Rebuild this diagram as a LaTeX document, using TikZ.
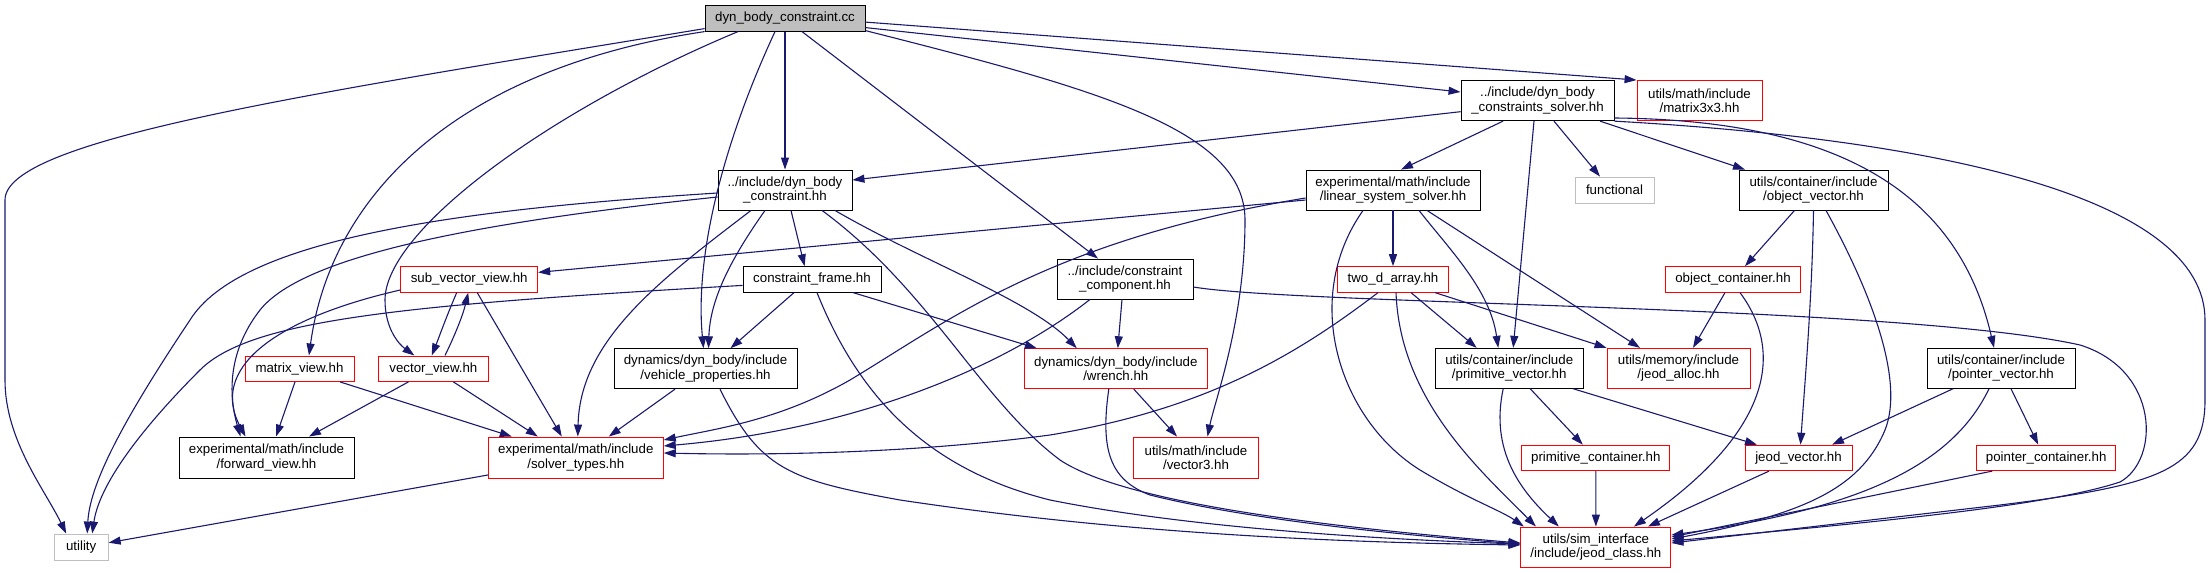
\documentclass[tikz,border=0pt]{standalone}
\usepackage{fontspec}
\setmainfont{Liberation Sans}
\usetikzlibrary{arrows.meta}
\definecolor{edgeblue}{RGB}{25,25,112}
\definecolor{nodered}{RGB}{255,0,0}
\definecolor{nodegray}{RGB}{191,191,191}

\begin{document}
\begin{tikzpicture}[
    x=1pt, y=-1pt,
    box/.style={draw=black, line width=0.9pt, fill=white, inner sep=0pt, minimum height=40pt, align=center, font=\fontsize{13.3}{14.5}\selectfont},
    oneline/.style={minimum height=25.5pt},
    redbox/.style={box, draw=nodered},
    graybox/.style={box, oneline, draw=nodegray},
    rootbox/.style={box, oneline, fill=nodegray},
    arr/.style={-{Triangle[length=12pt,width=8pt]}, draw=edgeblue, line width=1.1pt}
  ]
  \useasboundingbox (0,0) rectangle (2209,573);

  \node[rootbox, minimum width=160pt] (cc) at (785,18.4) {dyn\_body\_constraint.cc};
  \node[box, minimum width=153pt] (solver) at (1537.5,100.7) {../include/dyn\_body\\\_constraints\_solver.hh};
  \node[redbox, minimum width=125pt] (m3x3) at (1699.5,100.5) {utils/math/include\\/matrix3x3.hh};
  \node[box, minimum width=134pt] (dbc) at (785,190) {../include/dyn\_body\\\_constraint.hh};
  \node[box, minimum width=174pt] (lss) at (1393,190) {experimental/math/include\\/linear\_system\_solver.hh};
  \node[graybox, minimum width=79pt, minimum height=26pt] (func) at (1614.5,190) {functional};
  \node[box, minimum width=149pt] (objvec) at (1813.5,190) {utils/container/include\\/object\_vector.hh};
  \node[redbox, oneline, minimum width=137pt] (subvv) at (469.2,279.4) {sub\_vector\_view.hh};
  \node[box, oneline, minimum width=138pt] (cframe) at (812,279.4) {constraint\_frame.hh};
  \node[box, minimum width=136pt] (ccomp) at (1125,279) {../include/constraint\\\_component.hh};
  \node[redbox, oneline, minimum width=111pt] (twod) at (1393,279.4) {two\_d\_array.hh};
  \node[redbox, oneline, minimum width=135pt] (objcont) at (1733,279.4) {object\_container.hh};
  \node[redbox, oneline, minimum width=109pt] (matv) at (299.5,368.7) {matrix\_view.hh};
  \node[redbox, oneline, minimum width=110pt] (vecv) at (433.4,368.7) {vector\_view.hh};
  \node[box, minimum width=183pt] (vprop) at (705.5,368.7) {dynamics/dyn\_body/include\\/vehicle\_properties.hh};
  \node[redbox, minimum width=183pt] (wrench) at (1115.8,368.7) {dynamics/dyn\_body/include\\/wrench.hh};
  \node[box, minimum width=148pt] (primvec) at (1509.2,368.3) {utils/container/include\\/primitive\_vector.hh};
  \node[redbox, minimum width=143pt] (alloc) at (1678.5,368.3) {utils/memory/include\\/jeod\_alloc.hh};
  \node[box, minimum width=148pt] (ptrvec) at (2001,368.3) {utils/container/include\\/pointer\_vector.hh};
  \node[box, minimum width=175pt, minimum height=41pt] (fwd) at (266.5,457.5) {experimental/math/include\\/forward\_view.hh};
  \node[redbox, minimum width=175pt, minimum height=41pt] (stypes) at (575.8,457.5) {experimental/math/include\\/solver\_types.hh};
  \node[redbox, minimum width=125pt, minimum height=41pt] (vec3) at (1196,457.5) {utils/math/include\\/vector3.hh};
  \node[redbox, oneline, minimum width=148pt] (primcont) at (1595.8,457.9) {primitive\_container.hh};
  \node[redbox, oneline, minimum width=107pt] (jvec) at (1798.5,457.9) {jeod\_vector.hh};
  \node[redbox, oneline, minimum width=139pt] (ptrcont) at (2046.2,457.9) {pointer\_container.hh};
  \node[graybox, minimum width=54pt, minimum height=26pt] (utility) at (81.2,547) {utility};
  \node[redbox, minimum width=150pt] (jclass) at (1595.9,547) {utils/sim\_interface\\/include/jeod\_class.hh};

  \draw[arr] ([yshift=3pt]cc.south west) .. controls (300,95) and (5,140) .. (5,200) -- (5,380) .. controls (5,440) and (45,490) .. ([xshift=-15pt]utility.north);
  \draw[arr] (cc.south west) .. controls (450,70) and (330,200) .. ([xshift=9.5pt]matv.north);
  \draw[arr] ([xshift=-47pt]cc.south) .. controls (550,110) and (385,230) .. (385,300) .. controls (385,330) and (400,345) .. ([xshift=-19pt]vecv.north);
  \draw[arr] (cc.south) -- (dbc.north);
  \draw[arr] ([xshift=-10pt]cc.south) .. controls (720,150) and (695,260) .. ([xshift=-2pt]vprop.north);
  \draw[arr] ([xshift=17pt]cc.south) -- ([xshift=-27pt]ccomp.north);
  \draw[arr] ([yshift=1pt]cc.south east) .. controls (1100,90) and (1245,130) .. (1245,220) .. controls (1245,320) and (1215,400) .. ([xshift=11.5pt]vec3.north);
  \draw[arr] ([yshift=4pt]cc.south east) -- ([yshift=8.7pt]solver.west);
  \draw[arr] ([yshift=-3.7pt]cc.east) -- (m3x3.north west);

  \draw[arr] ([yshift=-11pt]solver.west) -- ([yshift=10pt]dbc.east);
  \draw[arr] ([xshift=-34.5pt]solver.south) -- ([xshift=8pt]lss.north);
  \draw[arr] ([xshift=16.5pt]solver.south) -- ([xshift=-14.5pt]func.north);
  \draw[arr] ([xshift=62.5pt]solver.south) -- ([xshift=-68.5pt]objvec.north);
  \draw[arr] ([xshift=-3.5pt]solver.south) -- ([xshift=4pt]primvec.north);
  \draw[arr] ([yshift=-17.3pt]solver.east) .. controls (1850,120) and (1960,200) .. ([xshift=-7pt]ptrvec.north);
  \draw[arr] (solver.south east) .. controls (1950,140) and (2205,200) .. (2205,320) -- (2205,400) .. controls (2205,470) and (2160,485) .. (2000,505) -- ([yshift=4pt]jclass.east);

  \draw[arr] ([yshift=-3pt]dbc.west) .. controls (450,210) and (240,240) .. (190,320) .. controls (130,410) and (90,480) .. ([xshift=6pt]utility.north);
  \draw[arr] ([yshift=-7pt]dbc.west) .. controls (450,225) and (300,260) .. (260,310) .. controls (225,355) and (230,400) .. ([xshift=-26pt]fwd.north);
  \draw[arr] ([xshift=-34pt]dbc.south) .. controls (660,280) and (580,340) .. ([xshift=2pt]stypes.north);
  \draw[arr] ([xshift=-20pt]dbc.south) .. controls (730,260) and (710,300) .. ([xshift=3pt]vprop.north);
  \draw[arr] ([xshift=6pt]dbc.south) -- ([xshift=-7.4pt]cframe.north);
  \draw[arr] ([xshift=50pt]dbc.south) .. controls (920,260) and (1030,300) .. ([xshift=-39pt]wrench.north);
  \draw[arr] ([xshift=37pt]dbc.south) .. controls (930,290) and (980,400) .. (1060,460) .. controls (1120,500) and (1300,525) .. ([yshift=4pt]jclass.west);

  \draw[arr] ([yshift=-6pt]cframe.west) .. controls (400,305) and (250,320) .. (200,370) .. controls (150,420) and (100,480) .. ([xshift=11pt]utility.north);
  \draw[arr] ([xshift=-18pt]cframe.south) -- ([xshift=25pt]vprop.north);
  \draw[arr] ([xshift=41pt]cframe.south) -- ([xshift=-79pt]wrench.north);
  \draw[arr] ([xshift=5pt]cframe.south) .. controls (860,400) and (930,470) .. (1050,500) .. controls (1200,530) and (1400,540) .. ([yshift=3pt]jclass.west);

  \draw[arr] ([xshift=-3pt]ccomp.south) -- ([xshift=2pt]wrench.north);
  \draw[arr] ([xshift=-35pt]ccomp.south) .. controls (1000,370) and (850,430) .. ([yshift=11.5pt]stypes.east);
  \draw[arr] ([yshift=-8pt]ccomp.east) .. controls (1300,305) and (1900,305) .. (2080,345) .. controls (2160,370) and (2160,460) .. (2120,482) .. controls (2050,505) and (1900,520) .. ([yshift=6pt]jclass.east);

  \draw[arr] ([yshift=-10pt]lss.west) -- ([yshift=7pt]subvv.east);
  \draw[arr] ([yshift=-8pt]lss.west) .. controls (1050,240) and (950,320) .. (850,380) .. controls (780,420) and (720,428) .. ([yshift=17.5pt]stypes.east);
  \draw[arr] (lss.south) -- (twod.north);
  \draw[arr] ([xshift=-30pt]lss.south) .. controls (1300,300) and (1340,420) .. (1420,470) .. controls (1470,500) and (1500,510) .. ([xshift=-72pt]jclass.north);
  \draw[arr] ([xshift=26pt]lss.south) .. controls (1450,250) and (1490,290) .. ([xshift=-11pt]primvec.north);
  \draw[arr] ([xshift=34pt]lss.south) -- ([xshift=-38.5pt]alloc.north);

  \draw[arr] ([xshift=-15pt]twod.south) .. controls (1290,360) and (1200,410) .. (1050,435) .. controls (900,455) and (750,455) .. ([yshift=4.5pt]stypes.east);
  \draw[arr] ([xshift=3pt]twod.south) .. controls (1400,400) and (1480,470) .. ([xshift=-60pt]jclass.north);
  \draw[arr] ([xshift=18pt]twod.south) -- ([xshift=-32.5pt]primvec.north);
  \draw[arr] ([xshift=42pt]twod.south) -- (alloc.north west);

  \draw[arr] ([xshift=-19pt]objvec.south) -- ([xshift=12pt]objcont.north);
  \draw[arr] (objvec.south) .. controls (1812,300) and (1805,380) .. ([xshift=2pt]jvec.north);
  \draw[arr] ([xshift=12.5pt]objvec.south) .. controls (1870,290) and (1905,380) .. (1885,430) .. controls (1860,490) and (1800,515) .. ([yshift=8pt]jclass.east);

  \draw[arr] ([xshift=-8pt]objcont.south) -- ([xshift=14.5pt]alloc.north);
  \draw[arr] ([xshift=7pt]objcont.south) .. controls (1790,360) and (1760,440) .. ([xshift=38pt]jclass.north);

  \draw[arr] ([xshift=21pt]primvec.south) -- ([xshift=-13pt]primcont.north);
  \draw[arr] ([xshift=64pt]primvec.south) -- ([xshift=-41.5pt]jvec.north);
  \draw[arr] ([xshift=-6pt]primvec.south) .. controls (1490,450) and (1520,490) .. ([xshift=-37pt]jclass.north);

  \draw[arr] ([xshift=-48pt]ptrvec.south) -- ([xshift=33.5pt]jvec.north);
  \draw[arr] ([xshift=-12pt]ptrvec.south) .. controls (1950,470) and (1850,510) .. ([yshift=12pt]jclass.east);
  \draw[arr] ([xshift=10pt]ptrvec.south) -- ([xshift=-8pt]ptrcont.north);

  \draw[arr] ([xshift=-54pt]ptrcont.south) -- ([yshift=10pt]jclass.east);
  \draw[arr] ([xshift=-29.5pt]jvec.south) -- ([xshift=52pt]jclass.north);
  \draw[arr] (primcont.south) -- (jclass.north);

  \draw[arr] ([xshift=-12.5pt]subvv.south) .. controls (445,320) and (438,340) .. ([xshift=-1.7pt]vecv.north);
  \draw[arr] ([yshift=-10.6pt]subvv.west) .. controls (270,320) and (210,370) .. ([xshift=-21pt]fwd.north);
  \draw[arr] ([xshift=8pt]subvv.south) -- ([xshift=-14pt]stypes.north);

  \draw[arr] ([xshift=11.6pt]vecv.north) .. controls (455,335) and (463,315) .. ([xshift=-1pt]subvv.south);
  \draw[arr] ([xshift=-25pt]vecv.south) -- ([xshift=42.5pt]fwd.north);
  \draw[arr] ([xshift=20pt]vecv.south) -- ([xshift=-38pt]stypes.north);

  \draw[arr] ([xshift=-4.5pt]matv.south) -- ([xshift=9.5pt]fwd.north);
  \draw[arr] ([xshift=40.5pt]matv.south) -- ([xshift=-64pt]stypes.north);

  \draw[arr] ([xshift=-30.5pt]vprop.south) -- ([xshift=33pt]stypes.north);
  \draw[arr] ([xshift=14.5pt]vprop.south) .. controls (760,470) and (790,480) .. (900,500) .. controls (1100,530) and (1300,542) .. ([yshift=2pt]jclass.west);

  \draw[arr] ([xshift=18pt]wrench.south) -- ([xshift=-19pt]vec3.north);
  \draw[arr] ([xshift=-7pt]wrench.south) .. controls (1100,450) and (1110,480) .. (1150,495) .. controls (1250,520) and (1400,535) .. ([yshift=3pt]jclass.west);

  \draw[arr] ([yshift=-17.5pt]stypes.west) -- ([yshift=4.3pt]utility.east);
\end{tikzpicture}
\end{document}
